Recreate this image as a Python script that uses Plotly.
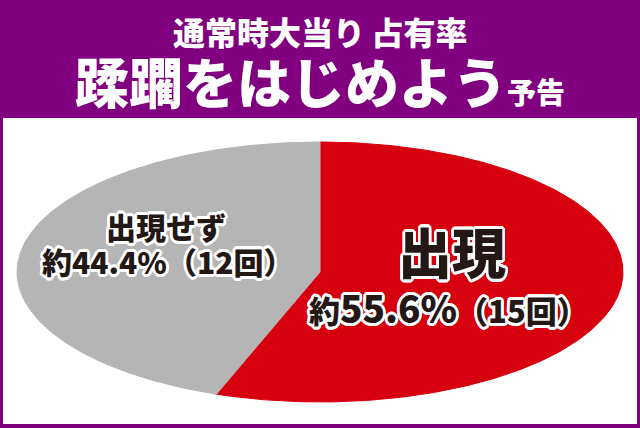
import math
import plotly.graph_objects as go

# ---- data ----
title_line1 = "通常時大当り\u2009占有率"
title_line2_main = "蹂躙をはじめよう"
title_line2_sub = "予告"
slice_labels = ["出現", "出現せず"]
slice_counts = [15, 12]
slice_colors = ["#d7000f", "#b5b5b6"]

# ---- geometry / style ----
W, H = 640, 428
cx, cy, rx, ry = 320, 272, 303, 130
FONT = "Noto Sans CJK JP"
TEXT_DARK = "#231815"
PURPLE = "#800080"

fig = go.Figure()
total = sum(slice_counts)
cum = 0
for lab, v, col in zip(slice_labels, slice_counts, slice_colors):
    t0 = cum / total * 2 * math.pi
    t1 = (cum + v) / total * 2 * math.pi
    n = max(4, int(600 * v / total))
    xs, ys = [cx], [cy]
    for i in range(n + 1):
        t = t0 + (t1 - t0) * i / n
        xs.append(cx + rx * math.sin(t))
        ys.append(cy - ry * math.cos(t))
    xs.append(cx)
    ys.append(cy)
    fig.add_trace(go.Scatter(x=xs, y=ys, fill="toself", fillcolor=col, mode="lines",
                             line=dict(color=col, width=1), hoverinfo="skip",
                             showlegend=False, name=lab))
    cum += v

pcts = [c / total * 100 for c in slice_counts]

offs = []
for k in range(24):
    a = 2 * math.pi * k / 24
    offs.append(f"{2.6*math.cos(a):.2f}px {2.6*math.sin(a):.2f}px 0 #ffffff")
outline = ", ".join(offs)

def lab_font(size):
    return dict(family=FONT, size=size, color=TEXT_DARK, weight=900, shadow=outline)

annotations = [
    dict(x=320, y=31, text=title_line1, showarrow=False, xanchor="center", yanchor="middle",
         font=dict(family=FONT, size=32, color="white", weight=900)),
    dict(x=320, y=80,
         text=f"{title_line2_main}<span style='font-size:29px'>{title_line2_sub}</span>",
         showarrow=False, xanchor="center", yanchor="middle",
         font=dict(family=FONT, size=54, color="white", weight=900)),
    # gray slice
    dict(x=166, y=226, text=slice_labels[1], showarrow=False, xanchor="center", yanchor="middle",
         font=lab_font(30)),
    dict(x=167, y=261, text=f"約{pcts[1]:.1f}%（{slice_counts[1]}回）", showarrow=False,
         xanchor="center", yanchor="middle", font=lab_font(30)),
    # red slice
    dict(x=452, y=250, text=slice_labels[0], showarrow=False, xanchor="center", yanchor="middle",
         font=lab_font(54)),
    dict(x=448, y=307,
         text=f"約<span style='font-size:37px'>{pcts[0]:.1f}%</span>（{slice_counts[0]}回）",
         showarrow=False, xanchor="center", yanchor="middle", font=lab_font(31)),
]

fig.update_layout(
    width=W, height=H, margin=dict(l=0, r=0, t=0, b=0),
    paper_bgcolor=PURPLE, plot_bgcolor=PURPLE,
    xaxis=dict(range=[0, W], visible=False, fixedrange=True),
    yaxis=dict(range=[H, 0], visible=False, fixedrange=True),
    shapes=[dict(type="rect", xref="x", yref="y", x0=3, x1=637, y0=118, y1=424,
                 fillcolor="white", line=dict(width=0), layer="below")],
    annotations=annotations,
    showlegend=False,
)

fig.write_html("out.html", config={"displayModeBar": False},
               post_script="document.body.style.margin='0';document.body.style.overflow='hidden';")
